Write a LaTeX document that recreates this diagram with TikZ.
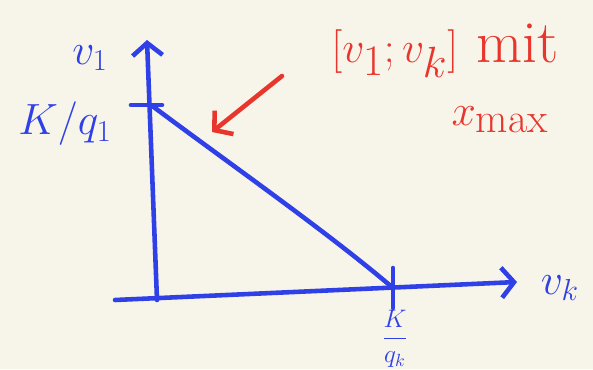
\documentclass[tikz,border=0pt]{standalone}
\usepackage{fontspec}
\usetikzlibrary{arrows.meta, positioning}
\definecolor{inkblue}{HTML}{2E40E6}
\definecolor{inkred}{HTML}{E8362C}
\definecolor{paper}{HTML}{F7F4EA}
\tikzset{
  every picture/.style={line width=2.6pt, line cap=round, line join=round},
  axis/.style={draw=inkblue, -{Straight Barb[length=2.5mm, width=6mm, line width=2.6pt]}},
  curve/.style={draw=inkblue},
  pointer/.style={draw=inkred, -{Straight Barb[length=2.5mm, width=6mm, line width=2.6pt]}},
  blab/.style={text=inkblue, font=\fontsize{27}{31}\selectfont, inner sep=1pt},
  rlab/.style={text=inkred, font=\fontsize{34}{40}\selectfont, inner sep=1pt},
}

\begin{document}
\begin{tikzpicture}
  \fill[paper] (0,0) rectangle (11.86,7.38);
  \useasboundingbox (0,0) rectangle (11.86,7.38);
  % axes
  \coordinate (ybot) at (3.14,1.38);
  \coordinate (ytop) at (2.94,6.58);
  \coordinate (xbeg) at (2.30,1.38);
  \coordinate (xend) at (10.34,1.74);
  \draw[axis] (ybot) -- (ytop);
  \draw[axis] (xbeg) -- (xend);
  % intercepts and budget line
  \coordinate (yint) at (3.02,5.28);
  \coordinate (xint) at (7.86,1.62);
  \draw[curve] ([xshift=-0.4cm]yint) -- ([xshift=0.22cm]yint);
  \draw[curve] ([yshift=0.4cm]xint) -- ([yshift=-0.4cm]xint);
  \draw[curve] (yint) .. controls (4.6,4.1) and (6.6,2.7) .. (xint);
  % labels
  \node[blab] (lv1) at (1.80,6.22) {$v_1$};
  \node[blab] (lk1) at (1.30,4.90) {$K/q_1$};
  \node[blab] (lvk) at (11.20,1.62) {$v_k$};
  \node[blab, font=\fontsize{14}{16}\selectfont] (lkk) at (7.90,0.60) {$\displaystyle\frac{K}{q_k}$};
  % note
  \node[rlab] (note) at (8.90,6.36) {$[v_1;v_k]$ mit};
  \node[rlab] (xmax) at (10.00,4.98) {$x_{\max}$};
  \coordinate (tail) at (5.64,5.86);
  \coordinate (aim) at (4.24,4.74);
  \draw[pointer] (tail) -- (aim);
\end{tikzpicture}
\end{document}
